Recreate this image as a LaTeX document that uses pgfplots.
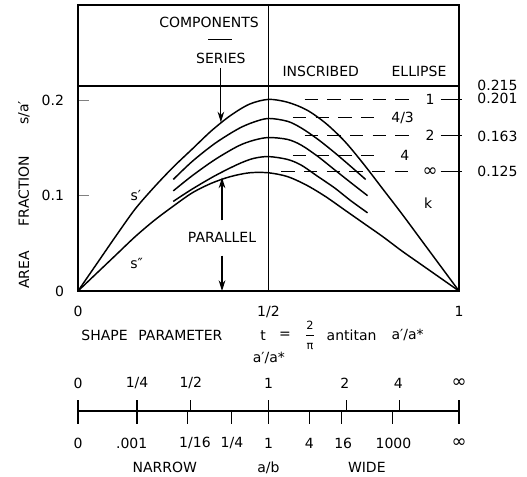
\documentclass[border=0pt]{standalone}
\usepackage{fontspec}
\setmainfont{DejaVu Sans}
\usepackage{pgfplots}
\usepackage{pgfplotstable}
\pgfplotsset{compat=1.18}
\usetikzlibrary{arrows.meta}
\newcommand{\lf}{\fontsize{10.5}{12}\selectfont}
\newcommand{\infsym}{{\fontsize{13.5}{12}\selectfont ∞}}

\pgfplotstableread{
t y
0 0
0.05 0.029
0.1 0.058
0.15 0.086
0.2 0.109
0.25 0.130
0.3 0.149
0.35 0.168
0.4 0.184
0.45 0.196
0.5 0.201
0.55 0.198
0.6 0.190
0.65 0.176
0.7 0.157
0.75 0.133
0.8 0.107
0.85 0.081
0.9 0.054
0.95 0.027
1 0
}\sprime

\pgfplotstableread{
t y
0 0
0.05 0.019
0.1 0.038
0.15 0.057
0.2 0.074
0.25 0.089
0.3 0.103
0.35 0.113
0.4 0.120
0.45 0.124
0.5 0.124
0.55 0.120
0.6 0.111
0.65 0.099
0.7 0.085
0.75 0.071
0.8 0.057
0.85 0.042
0.9 0.028
0.95 0.014
1 0
}\sdprime

\pgfplotstableread{
t y
0.25 0.117
0.3 0.136
0.36 0.155
0.42 0.170
0.46 0.177
0.5 0.181
0.55 0.178
0.586 0.171
0.63 0.159
0.674 0.145
0.715 0.131
0.755 0.117
}\cfourthirds

\pgfplotstableread{
t y
0.25 0.105
0.3 0.121
0.36 0.138
0.42 0.152
0.46 0.158
0.5 0.161
0.55 0.159
0.586 0.153
0.63 0.141
0.674 0.127
0.715 0.114
0.76 0.100
}\ctwo

\pgfplotstableread{
t y
0.25 0.094
0.3 0.107
0.36 0.121
0.42 0.133
0.46 0.139
0.5 0.141
0.55 0.138
0.586 0.132
0.63 0.120
0.674 0.108
0.715 0.095
0.76 0.082
}\cfour

\begin{document}
\begin{tikzpicture}[font=\lf]
\useasboundingbox (-58.5pt,-138.75pt) rectangle (336.75pt,218.25pt);
\begin{axis}[
  at={(0,0)}, anchor=south west,
  scale only axis, width=285.75pt, height=214.5pt,
  xmin=0, xmax=1, ymin=0, ymax=0.3,
  clip=false,
  axis line style={line width=1pt},
  xtick={0,0.5,1}, xticklabels={0,1/2,1},
  x tick style={draw=none},
  xticklabel style={yshift=-8pt, font=\lf},
  ytick={0,0.1,0.2}, yticklabels={0,0.1,0.2},
  ytick pos=left, tick align=inside,
  major tick length=8pt,
  y tick style={line width=1pt},
  yticklabel style={xshift=-7pt, font=\lf},
]
% structure lines
\addplot[line width=1pt] coordinates {(0.5,0) (0.5,0.3)};
\addplot[line width=1pt] coordinates {(0,0.215) (1,0.215)};

% curves
\addplot[line width=1.1pt, smooth] table[x=t,y=y] {\sprime};
\addplot[line width=1.1pt, smooth] table[x=t,y=y] {\sdprime};
\addplot[line width=1.1pt, smooth] table[x=t,y=y] {\cfourthirds};
\addplot[line width=1.1pt, smooth] table[x=t,y=y] {\ctwo};
\addplot[line width=1.1pt, smooth] table[x=t,y=y] {\cfour};

% dashed reference lines
\addplot[line width=0.9pt, dash pattern=on 10pt off 7pt] coordinates {(0.595,0.201) (0.888,0.201)};
\addplot[line width=0.9pt, dash pattern=on 10pt off 7pt] coordinates {(0.564,0.182) (0.790,0.182)};
\addplot[line width=0.9pt, dash pattern=on 10pt off 7pt] coordinates {(0.595,0.163) (0.888,0.163)};
\addplot[line width=0.9pt, dash pattern=on 10pt off 7pt] coordinates {(0.564,0.142) (0.790,0.142)};
\addplot[line width=0.9pt, dash pattern=on 10pt off 7pt] coordinates {(0.534,0.125) (0.885,0.125)};
\addplot[line width=0.9pt] coordinates {(0.952,0.201) (1.008,0.201)};
\addplot[line width=0.9pt] coordinates {(0.952,0.163) (1.008,0.163)};
\addplot[line width=0.9pt] coordinates {(0.952,0.125) (1.008,0.125)};

% arrows
\addplot[line width=0.9pt, -{Stealth[length=8pt,width=5pt]}] coordinates {(0.375,0.234) (0.375,0.177)};
\addplot[line width=0.9pt, -{Stealth[length=8pt,width=5pt]}] coordinates {(0.378,0.074) (0.378,0.119)};
\addplot[line width=0.9pt, -{Stealth[length=8pt,width=5pt]}] coordinates {(0.378,0.037) (0.378,0.0)};
\addplot[line width=0.9pt] coordinates {(0.342,0.264) (0.403,0.264)};

% texts inside
\node at (axis cs:0.344,0.282) {COMPONENTS};
\node at (axis cs:0.375,0.244) {SERIES};
\node at (axis cs:0.378,0.056) {PARALLEL};
\node at (axis cs:0.637,0.2305) {INSCRIBED};
\node at (axis cs:0.895,0.2305) {ELLIPSE};
\node at (axis cs:0.919,0.092) {k};
\node at (axis cs:0.152,0.100) {s′};
\node at (axis cs:0.154,0.029) {s″};
\node at (axis cs:0.924,0.201) {1};
\node at (axis cs:0.852,0.182) {4/3};
\node at (axis cs:0.924,0.163) {2};
\node at (axis cs:0.858,0.142) {4};
\node at (axis cs:0.924,0.125) {\infsym};
\node[anchor=west] at (axis cs:1.036,0.2158) {0.215};
\node[anchor=west] at (axis cs:1.036,0.2018) {0.201};
\node[anchor=west] at (axis cs:1.036,0.1624) {0.163};
\node[anchor=west] at (axis cs:1.036,0.1256) {0.125};

% y label
\node[rotate=90] at (axis cs:-0.142,0.022) {AREA};
\node[rotate=90] at (axis cs:-0.142,0.105) {FRACTION};
\node[rotate=90] at (axis cs:-0.142,0.187) {s/a′};

% x label
\node at (axis cs:0.194,-0.0463) {SHAPE\hspace{8pt}PARAMETER};
\node at (axis cs:0.486,-0.0463) {t};
\node at (axis cs:0.543,-0.0463) {=};
\node at (axis cs:0.609,-0.0463) {$\displaystyle\frac{\mbox{\fontsize{8.5}{9}\selectfont 2}}{\mbox{\fontsize{8.5}{9}\selectfont π}}$};
\node at (axis cs:0.718,-0.0463) {antitan};
\node at (axis cs:0.865,-0.0463) {a′/a*};
\node at (axis cs:0.501,-0.0705) {a′/a*};

% scale bar
\addplot[line width=1pt] coordinates {(0,-0.126) (1,-0.126)};
\pgfplotsinvokeforeach{0,0.155,0.5,1}{
  \addplot[line width=1pt] coordinates {(#1,-0.1147) (#1,-0.139)};
}
\pgfplotsinvokeforeach{0.295,0.705,0.844}{
  \addplot[line width=1pt] coordinates {(#1,-0.126) (#1,-0.1147)};
}
\pgfplotsinvokeforeach{0.287,0.403,0.607,0.692,0.826}{
  \addplot[line width=1pt] coordinates {(#1,-0.126) (#1,-0.139)};
}
\node at (axis cs:0,-0.0968) {0};
\node at (axis cs:0.155,-0.0968) {1/4};
\node at (axis cs:0.296,-0.0968) {1/2};
\node at (axis cs:0.5,-0.0968) {1};
\node at (axis cs:0.700,-0.0968) {2};
\node at (axis cs:0.841,-0.0968) {4};
\node at (axis cs:1,-0.0968) {\infsym};

\node at (axis cs:0,-0.1597) {0};
\node at (axis cs:0.141,-0.1597) {.001};
\node at (axis cs:0.307,-0.1597) {1/16};
\node at (axis cs:0.404,-0.1597) {1/4};
\node at (axis cs:0.5,-0.1597) {1};
\node at (axis cs:0.607,-0.1597) {4};
\node at (axis cs:0.696,-0.1597) {16};
\node at (axis cs:0.828,-0.1597) {1000};
\node at (axis cs:1,-0.1597) {\infsym};

\node at (axis cs:0.228,-0.185) {NARROW};
\node at (axis cs:0.5,-0.185) {a/b};
\node at (axis cs:0.758,-0.185) {WIDE};
\end{axis}
\end{tikzpicture}
\end{document}
